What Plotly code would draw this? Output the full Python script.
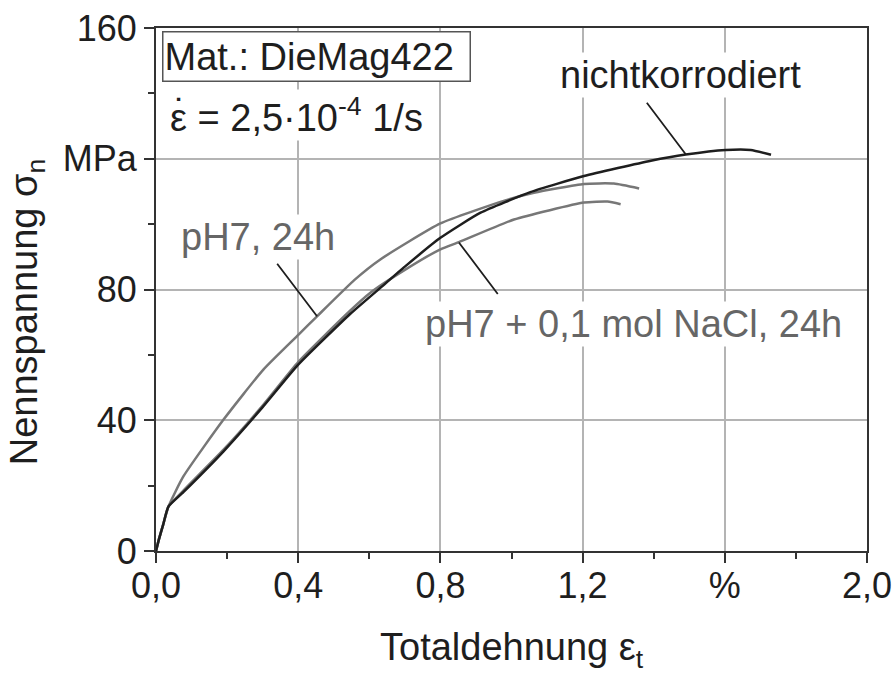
import plotly.graph_objects as go

# ---- data ----
strain_nk = [0, 0.008, 0.02, 0.035, 0.077, 0.19, 0.3, 0.4, 0.546, 0.631, 0.7, 0.8, 0.913, 1.053, 1.204, 1.392, 1.49, 1.603, 1.673, 1.73]
stress_nk = [0, 3.5, 8, 13.6, 18, 30.5, 44, 57, 72.5, 80.5, 87, 95.8, 103.5, 109.8, 114.7, 119.4, 121.3, 122.7, 122.7, 121.2]

strain_ph7 = [0, 0.008, 0.02, 0.035, 0.077, 0.19, 0.302, 0.401, 0.453, 0.56, 0.631, 0.8, 0.978, 1.063, 1.204, 1.288, 1.359]
stress_ph7 = [0, 3.5, 8, 13.6, 22.8, 40.2, 55.5, 66.2, 71.8, 83.1, 89.2, 100.2, 107.1, 109.6, 112.3, 112.4, 110.9]

strain_nacl = [0, 0.008, 0.02, 0.035, 0.077, 0.19, 0.3, 0.4, 0.546, 0.603, 0.7, 0.8, 0.852, 1.007, 1.204, 1.27, 1.307]
stress_nacl = [0, 3.5, 8, 13.6, 18.5, 31, 44.5, 57.8, 73.5, 79, 86, 92.3, 94.5, 101.4, 106.6, 106.9, 106.1]

x_tickvals = [0, 0.4, 0.8, 1.2, 1.6, 2.0]
x_ticktext = ["0,0", "0,4", "0,8", "1,2", "%", "2,0"]
y_tickvals = [0, 40, 80, 120, 160]
y_ticktext = ["0", "40", "80", "MPa", "160"]

FONT = "Liberation Sans, Arial, Helvetica, sans-serif"
FS_TICK = 36
FS = 38
DARK = "#1e1e1e"
GRAY = "#777777"
LABEL_GRAY = "#666666"

fig = go.Figure()
line_kw = dict(width=2.5, shape="spline", smoothing=0.5)
fig.add_trace(go.Scatter(x=strain_nacl, y=stress_nacl, mode="lines",
                         line=dict(color=GRAY, **line_kw), name="pH7 + 0,1 mol NaCl, 24h"))
fig.add_trace(go.Scatter(x=strain_ph7, y=stress_ph7, mode="lines",
                         line=dict(color=GRAY, **line_kw), name="pH7, 24h"))
fig.add_trace(go.Scatter(x=strain_nk, y=stress_nk, mode="lines",
                         line=dict(color=DARK, **line_kw), name="nichtkorrodiert"))

axis_common = dict(
    showline=True, linecolor="#333333", linewidth=2, mirror=True, automargin=False,
    showgrid=True, gridcolor="#b4b4b4", gridwidth=1.5,
    zeroline=False, ticks="outside", ticklen=10, tickwidth=2, tickcolor="#333333",
    tickfont=dict(family=FONT, size=FS_TICK, color=DARK),
)

fig.update_xaxes(range=[0, 2.0], tickmode="array", tickvals=x_tickvals, ticktext=x_ticktext,
                 ticklabelstandoff=-8,
                 minor=dict(dtick=0.2, ticks="outside", ticklen=6, tickwidth=2, tickcolor="#333333", showgrid=False),
                 **axis_common)
fig.update_yaxes(range=[0, 160], tickmode="array", tickvals=y_tickvals, ticktext=y_ticktext,
                 minor=dict(dtick=20, ticks="outside", ticklen=6, tickwidth=2, tickcolor="#333333", showgrid=False),
                 **axis_common)

annotations = [
    # axis titles
    dict(text="Nennspannung σ<sub>n</sub>", xref="paper", yref="paper", x=-0.181, y=0.457,
         textangle=-90, showarrow=False, xanchor="center", yanchor="middle",
         font=dict(family=FONT, size=FS, color=DARK)),
    dict(text="Totaldehnung ε<sub>t</sub>", xref="paper", yref="paper", x=0.5, y=-0.19,
         showarrow=False, xanchor="center", yanchor="middle",
         font=dict(family=FONT, size=FS, color=DARK)),
    # material box
    dict(text="Mat.: DieMag422", x=0.017, y=159.0, xref="x", yref="y", xanchor="left", yanchor="top",
         showarrow=False, align="left", width=304, height=46, borderpad=1,
         bordercolor="#555555", borderwidth=1.5, bgcolor="white",
         font=dict(family=FONT, size=FS, color=DARK)),
    dict(text="ε = 2,5·10<sup>-4</sup> 1/s", x=0.034, y=133.5, xref="x", yref="y",
         xanchor="left", yanchor="middle", showarrow=False, bgcolor="white",
         font=dict(family=FONT, size=FS, color=DARK)),
    dict(text="˙", x=0.034, y=133.5, xref="x", yref="y", xanchor="left", yanchor="middle",
         xshift=4, yshift=2, showarrow=False,
         font=dict(family=FONT, size=FS, color=DARK)),
    # curve labels
    dict(text="nichtkorrodiert", x=1.476, y=145.5, xref="x", yref="y", showarrow=False,
         xanchor="center", yanchor="middle", bgcolor="white",
         font=dict(family=FONT, size=FS, color=DARK)),
    dict(text="pH7, 24h", x=0.286, y=96, xref="x", yref="y", showarrow=False,
         xanchor="center", yanchor="middle", bgcolor="white",
         font=dict(family=FONT, size=FS, color=LABEL_GRAY)),
    dict(text="pH7 + 0,1 mol NaCl, 24h", x=1.344, y=69.5, xref="x", yref="y", showarrow=False,
         xanchor="center", yanchor="middle", bgcolor="white",
         font=dict(family=FONT, size=FS, color=LABEL_GRAY)),
    # leader lines
    dict(text="", x=1.49, y=121.4, xref="x", yref="y", showarrow=True, arrowhead=0,
         arrowwidth=1.8, arrowcolor=DARK, ax=-40, ay=-53, standoff=0),
    dict(text="", x=0.453, y=71.8, xref="x", yref="y", showarrow=True, arrowhead=0,
         arrowwidth=1.8, arrowcolor=DARK, ax=-41, ay=-54, standoff=0),
    dict(text="", x=0.852, y=94.4, xref="x", yref="y", showarrow=True, arrowhead=0,
         arrowwidth=1.8, arrowcolor=DARK, ax=40, ay=53, standoff=0),
]

fig.update_layout(
    template="none",
    width=893, height=677,
    margin=dict(l=156, r=26, t=28, b=126, autoexpand=False),
    plot_bgcolor="white", paper_bgcolor="white",
    showlegend=False,
    annotations=annotations,
    font=dict(family=FONT, size=FS, color=DARK),
)

fig.write_html("out.html",
               config={"displayModeBar": False},
               post_script="document.body.style.margin='0';document.body.style.overflow='hidden';")
